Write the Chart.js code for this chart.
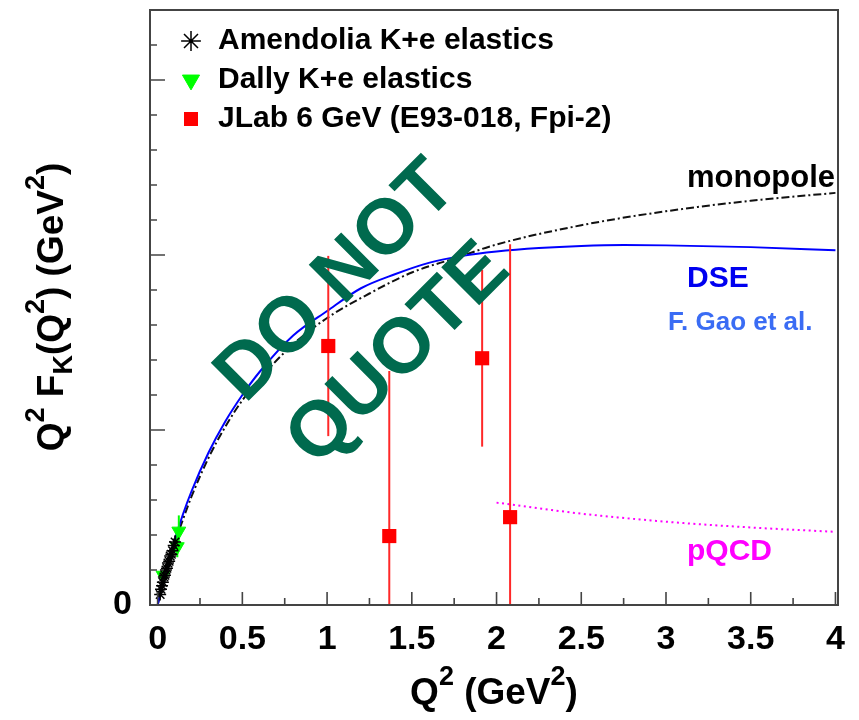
<!DOCTYPE html>
<html>
<head>
<meta charset="utf-8">
<script src="https://cdn.jsdelivr.net/npm/chart.js@4.4.1/dist/chart.umd.min.js"></script>
<style>
  html, body { margin: 0; padding: 0; background: #fff; }
  #wrap { width: 859px; height: 720px; }
</style>
</head>
<body>
<div id="wrap"><canvas id="ffChart" width="859" height="720"></canvas></div>
<script>
// ============================================================================
// 1. DATA
// ============================================================================

// DSE curve (F. Gao et al.)
const dseQ2 = [0, 0.05, 0.1, 0.15, 0.2, 0.3, 0.4, 0.5, 0.6, 0.8, 1.0, 1.2, 1.4, 1.6, 1.8, 2.0, 2.25, 2.5, 2.75, 3.0, 3.5, 4.0];
const dseF  = [0, 0.020, 0.037, 0.052, 0.065, 0.087, 0.105, 0.120, 0.133, 0.154, 0.168, 0.181, 0.189, 0.1955, 0.1995, 0.202, 0.204, 0.2052, 0.2057, 0.2055, 0.2045, 0.2027];

// monopole curve
const monoQ2 = [0, 0.05, 0.1, 0.15, 0.2, 0.3, 0.4, 0.5, 0.6, 0.8, 1.0, 1.25, 1.5, 1.75, 2.0, 2.5, 3.0, 3.5, 4.0];
const monoF  = [0, 0.019, 0.035, 0.049, 0.062, 0.084, 0.102, 0.117, 0.129, 0.149, 0.164, 0.178, 0.190, 0.198, 0.206, 0.217, 0.225, 0.231, 0.2355];

// pQCD curve
const pqcdQ2 = [2.0, 2.5, 3.0, 3.5, 4.0];
const pqcdF  = [0.0585, 0.0522, 0.0476, 0.0443, 0.0418];

// Amendolia K+e elastics
const amendQ2  = [0.015, 0.020, 0.026, 0.031, 0.037, 0.043, 0.049, 0.055, 0.061, 0.068, 0.074, 0.081, 0.088, 0.095, 0.103];
const amendF   = [0.006, 0.009, 0.011, 0.013, 0.016, 0.017, 0.020, 0.021, 0.024, 0.025, 0.028, 0.029, 0.031, 0.034, 0.036];
const amendErr = [0.002, 0.002, 0.002, 0.003, 0.003, 0.003, 0.003, 0.003, 0.003, 0.003, 0.004, 0.004, 0.004, 0.004, 0.004];

// Dally K+e elastics
const dallyQ2  = [0.032, 0.116, 0.125];
const dallyF   = [0.017, 0.0333, 0.0422];
const dallyErr = [0.004, 0.006, 0.009];

// JLab 6 GeV (E93-018, Fpi-2)
const jlabQ2  = [1.007, 1.367, 1.915, 2.08];
const jlabF   = [0.148, 0.0394, 0.141, 0.0502];
const jlabErr = [0.0515, 0.0943, 0.0505, 0.156];

// axis ticks
const xMajorTicks = [0, 0.5, 1, 1.5, 2, 2.5, 3, 3.5, 4];
const xMinorTicks = [0.25, 0.75, 1.25, 1.75, 2.25, 2.75, 3.25, 3.75];
const yMajorTicks = [0, 0.1, 0.2, 0.3];
const yMinorTicks = [0.02, 0.04, 0.06, 0.08, 0.12, 0.14, 0.16, 0.18, 0.22, 0.24, 0.26, 0.28, 0.32];

const legendNames = ['Amendolia K+e elastics', 'Dally K+e elastics', 'JLab 6 GeV (E93-018, Fpi-2)'];

const SANS = '"Liberation Sans", Arial, sans-serif';

// ============================================================================
// 2. HELPERS
// ============================================================================

const toPts = (xs, ys) => xs.map((x, i) => ({ x: x, y: ys[i] }));

function errorBarSets(xs, ys, errs, color, label, width) {
    return xs.map((x, i) => ({
        label: label,
        data: [{ x: x, y: ys[i] - errs[i] }, { x: x, y: ys[i] + errs[i] }],
        showLine: true,
        borderColor: color,
        borderWidth: width,
        pointRadius: 0,
        order: 3
    }));
}

// text with superscripts / subscripts, parts = [[text, 'n'|'sup'|'sub'], ...]
function drawRich(ctx, parts, x, y, size, align) {
    const small = Math.round(size * 0.72);
    const fontFor = k => `bold ${k === 'n' ? size : small}px ${SANS}`;
    let total = 0;
    parts.forEach(([t, k]) => { ctx.font = fontFor(k); total += ctx.measureText(t).width; });
    let cx = align === 'center' ? x - total / 2 : x;
    ctx.textAlign = 'left';
    ctx.textBaseline = 'alphabetic';
    parts.forEach(([t, k]) => {
        ctx.font = fontFor(k);
        const dy = k === 'sup' ? -size * 0.52 : (k === 'sub' ? size * 0.25 : 0);
        ctx.fillText(t, cx, y + dy);
        cx += ctx.measureText(t).width;
    });
}

// ============================================================================
// 3. PLUGINS
// ============================================================================

// move the legend into the top-left corner of the frame
const legendSpot = {
    id: 'legendSpot',
    afterLayout(chart) {
        const lg = chart.legend;
        if (!lg) return;
        lg.left = 170;
        lg.top = 17;
        lg.right = lg.left + lg.width;
        lg.bottom = lg.top + lg.height;
    }
};

// frame box + inward ticks, like ROOT
const frameTicks = {
    id: 'frameTicks',
    afterDatasetsDraw(chart) {
        const { ctx, chartArea: a, scales: { x, y } } = chart;
        ctx.save();
        ctx.strokeStyle = '#444';
        ctx.lineWidth = 2;
        ctx.strokeRect(a.left, a.top, a.right - a.left, a.bottom - a.top);
        ctx.lineWidth = 1.6;
        ctx.beginPath();
        const xTick = (v, len) => { const px = x.getPixelForValue(v); ctx.moveTo(px, a.bottom); ctx.lineTo(px, a.bottom - len); };
        const yTick = (v, len) => { const py = y.getPixelForValue(v); ctx.moveTo(a.left, py); ctx.lineTo(a.left + len, py); };
        xMajorTicks.forEach(v => xTick(v, 13));
        xMinorTicks.forEach(v => xTick(v, 7));
        yMajorTicks.forEach(v => yTick(v, 15));
        yMinorTicks.forEach(v => yTick(v, 7));
        ctx.stroke();
        ctx.restore();
    }
};

// axis titles, curve labels and the watermark
const labels = {
    id: 'labels',
    afterDraw(chart) {
        const { ctx } = chart;
        ctx.save();
        ctx.fillStyle = '#000';
        drawRich(ctx, [['Q', 'n'], ['2', 'sup'], [' (GeV', 'n'], ['2', 'sup'], [')', 'n']], 494, 704, 37, 'center');

        ctx.save();
        ctx.translate(63, 307);
        ctx.rotate(-Math.PI / 2);
        drawRich(ctx, [['Q', 'n'], ['2', 'sup'], [' F', 'n'], ['K', 'sub'], ['(Q', 'n'], ['2', 'sup'], [') (GeV', 'n'], ['2', 'sup'], [')', 'n']], 0, 0, 37, 'center');
        ctx.restore();

        ctx.textAlign = 'left';
        ctx.textBaseline = 'alphabetic';
        ctx.font = `bold 31px ${SANS}`;
        ctx.fillStyle = '#000';
        ctx.fillText('monopole', 687, 187);
        ctx.font = `bold 30px ${SANS}`;
        ctx.fillStyle = '#0000f0';
        ctx.fillText('DSE', 687, 287);
        ctx.fillStyle = '#ff00ff';
        ctx.fillText('pQCD', 687, 560);
        ctx.font = `bold 26px ${SANS}`;
        ctx.fillStyle = '#3a6cf4';
        ctx.fillText('F. Gao et al.', 668, 330);

        // watermark
        ctx.fillStyle = '#006a4e';
        ctx.font = `bold 78px ${SANS}`;
        ctx.textAlign = 'center';
        ctx.textBaseline = 'middle';
        ctx.save();
        ctx.translate(337, 282);
        ctx.rotate(-45 * Math.PI / 180);
        ctx.fillText('DO NOT', 0, 0);
        ctx.restore();
        ctx.save();
        ctx.translate(399, 355);
        ctx.rotate(-45 * Math.PI / 180);
        ctx.fillText('QUOTE', 0, 0);
        ctx.restore();
        ctx.restore();
    }
};

// ============================================================================
// 4. CHART
// ============================================================================

const datasets = [
    {
        label: legendNames[0],
        data: toPts(amendQ2, amendF),
        pointStyle: 'star',
        pointRadius: 6,
        borderColor: '#000',
        backgroundColor: '#000',
        borderWidth: 1.5,
        order: 0
    },
    {
        label: legendNames[1],
        data: toPts(dallyQ2, dallyF),
        pointStyle: 'triangle',
        pointRotation: 180,
        pointRadius: 8,
        borderColor: '#00ff00',
        backgroundColor: '#00ff00',
        borderWidth: 1,
        order: 1
    },
    {
        label: legendNames[2],
        data: toPts(jlabQ2, jlabF),
        pointStyle: 'rect',
        pointRadius: 10,
        borderColor: '#ff0000',
        backgroundColor: '#ff0000',
        borderWidth: 0,
        order: 2
    },
    ...errorBarSets(jlabQ2, jlabF, jlabErr, 'rgb(255,40,40)', 'jlabErr', 2),
    ...errorBarSets(dallyQ2.slice(1), dallyF.slice(1), dallyErr.slice(1), '#00ff00', 'dallyErr', 2),
    ...errorBarSets(amendQ2, amendF, amendErr, '#000', 'amendErr', 1.2),
    {
        label: 'DSE',
        data: toPts(dseQ2, dseF),
        showLine: true,
        pointRadius: 0,
        borderColor: '#0000ff',
        borderWidth: 2,
        cubicInterpolationMode: 'monotone',
        order: 4
    },
    {
        label: 'monopole',
        data: toPts(monoQ2, monoF),
        showLine: true,
        pointRadius: 0,
        borderColor: '#111',
        borderWidth: 2,
        borderDash: [8, 3, 2, 3],
        cubicInterpolationMode: 'monotone',
        order: 4
    },
    {
        label: 'pQCD',
        data: toPts(pqcdQ2, pqcdF),
        showLine: true,
        pointRadius: 0,
        borderColor: '#ff00ff',
        borderWidth: 2,
        borderDash: [2, 3.5],
        cubicInterpolationMode: 'monotone',
        order: 4
    }
];

new Chart(document.getElementById('ffChart'), {
    type: 'scatter',
    data: { datasets: datasets },
    options: {
        responsive: false,
        animation: false,
        events: [],
        layout: { padding: { top: 7, right: 21, left: 0, bottom: 0 } },
        plugins: {
            tooltip: { enabled: false },
            legend: {
                position: 'chartArea',
                align: 'start',
                labels: {
                    usePointStyle: true,
                    boxHeight: 14,
                    boxWidth: 24,
                    padding: 9,
                    color: '#000',
                    font: { family: SANS, size: 30, weight: 'bold' },
                    filter: item => legendNames.includes(item.text)
                }
            }
        },
        scales: {
            x: {
                type: 'linear',
                min: -0.045,
                max: 4.015,
                afterBuildTicks: s => { s.ticks = xMajorTicks.map(v => ({ value: v })); },
                afterFit: s => { s.height = 115; s.paddingLeft = 0; s.paddingRight = 0; },
                grid: { display: false, drawTicks: false },
                border: { display: false },
                ticks: {
                    padding: 14,
                    color: '#000',
                    maxRotation: 0,
                    autoSkip: false,
                    font: { family: SANS, size: 34, weight: 'bold' },
                    callback: v => String(v)
                }
            },
            y: {
                type: 'linear',
                min: 0,
                max: 0.34,
                afterBuildTicks: s => { s.ticks = yMajorTicks.map(v => ({ value: v })); },
                afterFit: s => { s.width = 150; s.paddingTop = 0; s.paddingBottom = 0; },
                grid: { display: false, drawTicks: false },
                border: { display: false },
                ticks: {
                    padding: 18,
                    color: '#000',
                    autoSkip: false,
                    font: { family: SANS, size: 34, weight: 'bold' },
                    callback: v => (v === 0 ? '0' : '')
                }
            }
        }
    },
    plugins: [legendSpot, frameTicks, labels]
});
</script>
</body>
</html>
